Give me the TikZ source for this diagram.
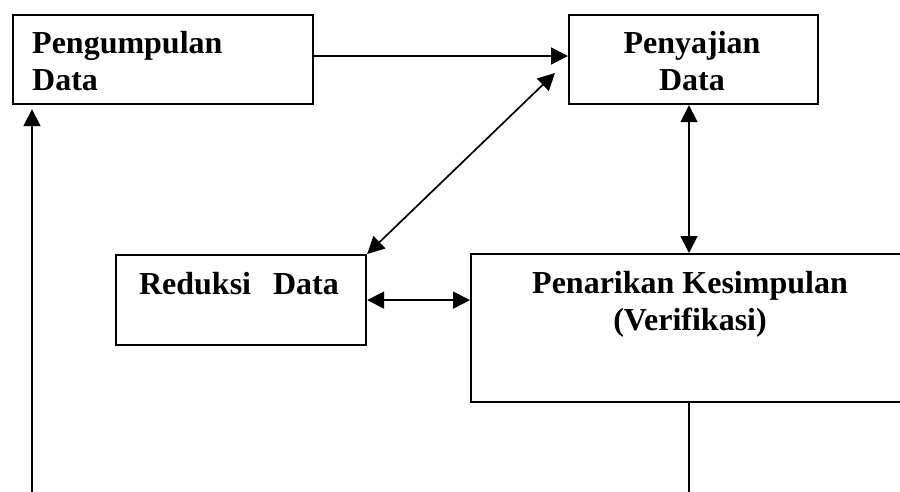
\documentclass[tikz,border=0pt]{standalone}
\usepackage{fontspec}
\setmainfont{Liberation Serif}
\usetikzlibrary{arrows.meta}
\begin{document}
\begin{tikzpicture}[x=1pt,y=-1pt,
  box/.style={draw, line width=2.2pt, inner sep=0pt, anchor=north west},
  lbl/.style={inner sep=0pt, font=\fontsize{32}{36.5}\selectfont\bfseries},
  conn/.style={line width=1.7pt},
  arr/.style={conn, -{Triangle[length=17pt,width=17pt]}},
  dbl/.style={conn, {Triangle[length=17pt,width=17pt]}-{Triangle[length=17pt,width=17pt]}}]
\useasboundingbox[fill=white] (0,0) rectangle (900,491);
% boxes
\node[box, minimum width=300pt, minimum height=89pt] (p1) at (12,14) {};
\node[box, minimum width=249pt, minimum height=89pt] (p2) at (568,14) {};
\node[box, minimum width=250pt, minimum height=90pt] (p3) at (115,254) {};
\node[box, minimum width=440pt, minimum height=148pt] (p4) at (470,253) {};
% labels (base anchor = baseline of the last line)
\node[lbl, anchor=base west, align=left] (t1) at (32,90) {Pengumpulan\\Data};
\node[lbl, anchor=base, align=center] (t2) at (692,90) {Penyajian\\Data};
\node[lbl, anchor=base] (t3) at (239,294) {Reduksi\hspace{22pt}Data};
\node[lbl, anchor=base, align=center] (t4) at (690,330) {Penarikan Kesimpulan\\(Verifikasi)};
% helper coordinates
\coordinate (h) at (0,56);
\coordinate (d1) at (555,73);
\coordinate (v) at (689,0);
\coordinate (lb) at (32,495);
\coordinate (rb) at (689,495);
% connectors
\draw[arr] (p1.east |- h) -- (p2.west |- h);
\draw[dbl] (p3.north east) -- (d1);
\draw[dbl] (p2.south -| v) -- (p4.north -| v);
\draw[dbl] (p3.east) -- (p4.west |- p3.east);
\draw[conn] (p4.south -| rb) -- (rb);
\draw[arr, shorten >=4pt] (lb) -- (p1.south -| lb);
\end{tikzpicture}
\end{document}
